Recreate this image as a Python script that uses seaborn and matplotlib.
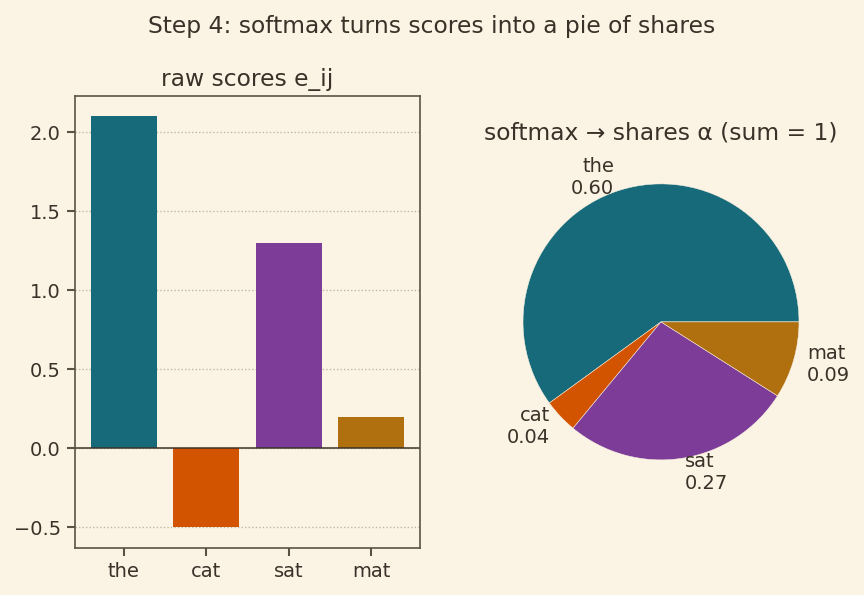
import matplotlib
matplotlib.use("Agg")
import matplotlib.pyplot as plt
import seaborn as sns
import pandas as pd

# --- data ---
tokens = ["the", "cat", "sat", "mat"]
scores = [2.1, -0.5, 1.3, 0.2]
shares = [0.60, 0.04, 0.27, 0.09]
colors = ["#176A7A", "#D35400", "#7D3C98", "#B0700F"]

BG = "#FBF3E4"
INK = "#3A3128"
SPINE = "#5C5145"


def set_style():
    sns.set_theme(style="ticks")
    plt.rcParams.update({
        "figure.facecolor": BG,
        "axes.facecolor": BG,
        "savefig.facecolor": BG,
        "axes.edgecolor": SPINE,
        "axes.labelcolor": INK,
        "text.color": INK,
        "xtick.color": SPINE,
        "ytick.color": SPINE,
        "xtick.labelcolor": INK,
        "ytick.labelcolor": INK,
        "xtick.labelsize": 11.6,
        "ytick.labelsize": 11.6,
        "xtick.major.size": 5,
        "ytick.major.size": 5,
        "font.size": 11.6,
    })
    plt.rcParams["font.family"] = ["DejaVu Sans"]


def plot():
    set_style()
    df = pd.DataFrame({"token": tokens, "score": scores})

    fig, axes = plt.subplots(1, 2, figsize=(7.2, 4.96), dpi=120)
    fig.subplots_adjust(left=0.0868, right=0.9647, bottom=0.079, top=0.8387, wspace=0.1986)

    ax = axes[0]
    sns.barplot(data=df, x="token", y="score", hue="token", palette=colors,
                saturation=1, width=0.8, linewidth=0, legend=False, ax=ax)
    ax.set_xlim(-0.59, 3.59)
    ax.set_ylim(-0.63, 2.23)
    ax.axhline(0, color=INK, linewidth=0.9)
    ax.yaxis.grid(True, linestyle=":", color="#BDB3A3", linewidth=0.8)
    ax.set_axisbelow(True)
    for s in ax.spines.values():
        s.set_visible(True)
        s.set_linewidth(1.0)
    ax.set_xlabel("")
    ax.set_ylabel("")
    ax.set_title("raw scores e_ij", fontsize=14, color=INK)

    ax2 = axes[1]
    labels = [f"{t}\n{v:.2f}" for t, v in zip(tokens, shares)]
    ax2.pie(shares, labels=labels, colors=colors,
            wedgeprops={"edgecolor": BG, "linewidth": 0.3},
            textprops={"color": INK, "fontsize": 11.6})
    ax2.set_title("softmax → shares α (sum = 1)", fontsize=14, color=INK)

    fig.suptitle("Step 4: softmax turns scores into a pie of shares", fontsize=14, color=INK, y=0.975)
    plt.savefig("out.png", dpi=120)


if __name__ == "__main__":
    plot()
